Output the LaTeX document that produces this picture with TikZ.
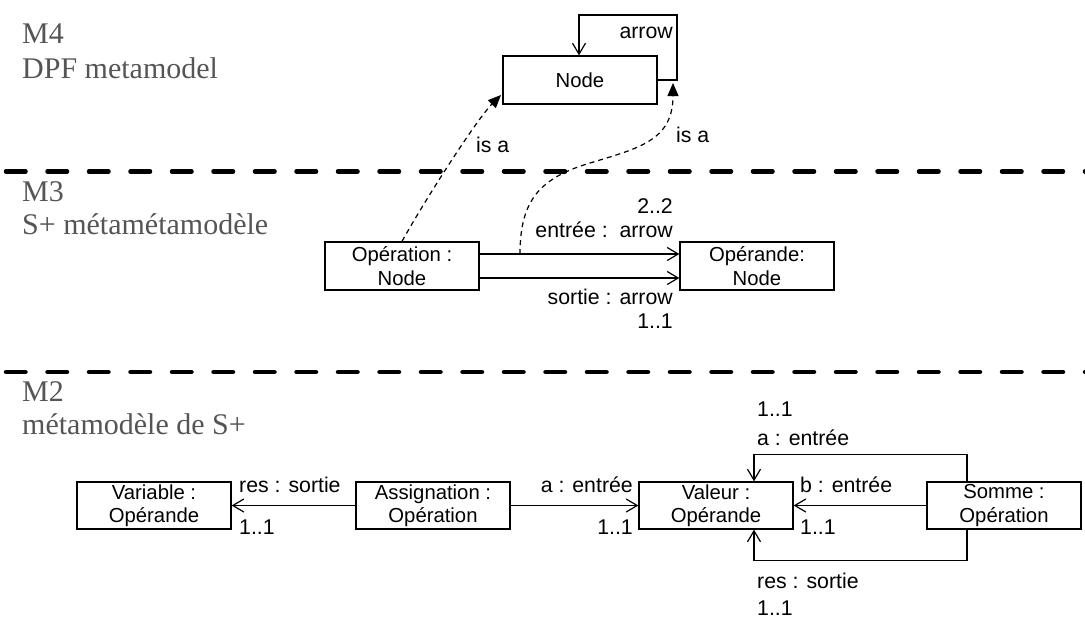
\documentclass[tikz,border=0pt]{standalone}
\usepackage{fontspec}
\setmainfont{Liberation Serif}
\setsansfont{Liberation Sans}
\usetikzlibrary{arrows.meta}
\definecolor{lvl}{RGB}{85,85,85}
\begin{document}
\begin{tikzpicture}[x=1pt,y=-1pt,
  box/.style={draw,line width=1.3pt,inner sep=0pt,align=center,minimum width=154pt,font=\sffamily\fontsize{20.3}{23.5}\selectfont},
  lbl/.style={inner sep=0pt,font=\sffamily\fontsize{21.3}{24}\selectfont},
  lvltxt/.style={inner sep=0pt,anchor=base west,text=lvl,font=\rmfamily\fontsize{30}{36}\selectfont},
  sepline/.style={line width=4.5pt,line cap=round,dash pattern=on 19.5pt off 22pt},
  conn/.style={line width=1.2pt,-{Straight Barb[length=11pt,width=13pt,line width=1.2pt]}},
  isa/.style={line width=1.2pt,dash pattern=on 5pt off 4pt,-{Triangle[length=13pt,width=11pt]}}
]
\useasboundingbox (0,0) rectangle (1085,619);

% level texts
\node[lvltxt] (m4) at (22,43) {M4};
\node[lvltxt] (m4b) at (22,78) {DPF metamodel};
\node[lvltxt] (m3) at (22,201) {M3};
\node[lvltxt] (m3b) at (22,234) {S+ métamétamodèle};
\node[lvltxt] (m2) at (22,401) {M2};
\node[lvltxt] (m2b) at (22,434) {métamodèle de S+};

% separators
\coordinate (s1a) at (6,171.5);
\coordinate (s1b) at (1090,171.5);
\coordinate (s2a) at (6,372);
\coordinate (s2b) at (1090,372);
\draw[sepline] (s1a) -- (s1b);
\draw[sepline] (s2a) -- (s2b);

% M4
\node[box,minimum height=48pt] (node) at (580,80) {Node};
\coordinate (lt) at (579,15);
\draw[conn] (node.east) -| (677,15) -| (node.north -| lt);
\node[lbl,anchor=base east] (larrow) at (673,38) {arrow};

% M3
\node[box,minimum height=48pt] (op) at (402,266) {Opération :\\Node};
\node[box,minimum height=48pt] (opd) at (757,266) {Opérande:\\Node};
\draw[conn] ([yshift=12pt]op.east) -- ([yshift=12pt]opd.west);
\draw[conn] ([yshift=-12pt]op.east) -- ([yshift=-12pt]opd.west);
\node[lbl,anchor=base east] (l22) at (673,213) {2..2};
\node[lbl,anchor=base east] (lentree) at (673,237) {entrée :\ \ arrow};
\node[lbl,anchor=base east] (lsortie) at (673,304) {sortie : arrow};
\node[lbl,anchor=base east] (l11) at (673,328) {1..1};

% is a
\coordinate (isa1) at (501,95);
\draw[isa] (op.north) .. controls (422,205) and (476,120) .. (isa1);
\node[lbl,anchor=base west] (lisa1) at (476,152) {is a};
\coordinate (e1) at (520,254);
\coordinate (isa2) at (673,83);
\draw[isa] (e1) .. controls (520,200) and (540,178) .. (590,163)
  .. controls (640,148) and (673,140) .. (isa2);
\node[lbl,anchor=base west] (lisa2) at (676,142) {is a};

% M2
\node[box,minimum height=47pt] (var) at (154,505.5) {Variable :\\Opérande};
\node[box,minimum height=47pt] (asg) at (433,505.5) {Assignation :\\Opération};
\node[box,minimum height=47pt] (val) at (716,505.5) {Valeur :\\Opérande};
\node[box,minimum height=47pt] (som) at (1004,505.5) {Somme :\\Opération};

\draw[conn] (asg.west) -- (var.east);
\draw[conn] (asg.east) -- (val.west);
\draw[conn] (som.west) -- (val.east);
\draw[conn] ([xshift=-37pt]som.north) -- ++(0,-27) -| ([xshift=38pt]val.north);
\draw[conn] ([xshift=-37pt]som.south) -- ++(0,31) -| ([xshift=38pt]val.south);

\node[lbl,anchor=base west] (lres1) at (239,492) {res : sortie};
\node[lbl,anchor=base west] (lres1m) at (239,534) {1..1};
\node[lbl,anchor=base east] (la1) at (633,492) {a : entrée};
\node[lbl,anchor=base east] (la1m) at (633,534) {1..1};
\node[lbl,anchor=base west] (lb) at (800,492) {b : entrée};
\node[lbl,anchor=base west] (lbm) at (800,534) {1..1};
\node[lbl,anchor=base west] (lam) at (757,416) {1..1};
\node[lbl,anchor=base west] (la2) at (757,445) {a : entrée};
\node[lbl,anchor=base west] (lres2) at (757,588) {res : sortie};
\node[lbl,anchor=base west] (lres2m) at (757,615) {1..1};
\end{tikzpicture}
\end{document}
